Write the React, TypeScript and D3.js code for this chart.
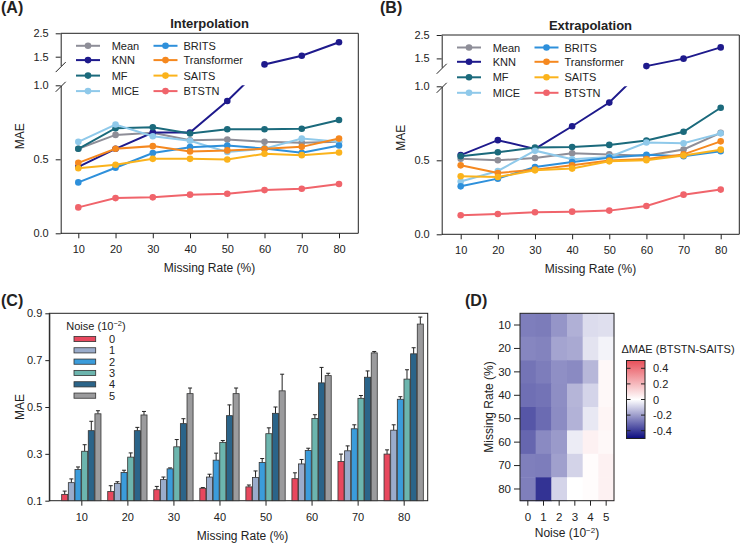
import React, { useEffect, useRef } from 'react';
import * as d3 from 'd3';

const rates = [10, 20, 30, 40, 50, 60, 70, 80];
const methods = ['Mean', 'KNN', 'MF', 'MICE', 'BRITS', 'Transformer', 'SAITS', 'BTSTN'];
const methodColors = ['#8e8e98', '#1e1a8c', '#1b6a7c', '#8fc9ea', '#2e90db', '#f5881f', '#fbb31c', '#f0646b'];

// MAE, interpolation task
const interpMean = [0.571, 0.665, 0.679, 0.629, 0.634, 0.618, 0.611, 0.618];
const interpKNN = [0.449, 0.571, 0.681, 0.681, 0.894, 1.17, 1.54, 2.12];
const interpMF = [0.571, 0.71, 0.717, 0.674, 0.703, 0.703, 0.706, 0.766];
const interpMICE = [0.618, 0.735, 0.656, 0.625, 0.55, 0.572, 0.64, 0.618];
const interpBRITS = [0.344, 0.443, 0.542, 0.582, 0.593, 0.573, 0.544, 0.593];
const interpTransformer = [0.476, 0.571, 0.589, 0.553, 0.56, 0.571, 0.584, 0.64];
const interpSAITS = [0.44, 0.463, 0.503, 0.503, 0.499, 0.537, 0.528, 0.546];
const interpBTSTN = [0.175, 0.238, 0.243, 0.261, 0.267, 0.292, 0.301, 0.333];

// MAE, extrapolation task
const extraMean = [0.51, 0.5, 0.516, 0.547, 0.54, 0.53, 0.573, 0.685];
const extraKNN = [0.535, 0.636, 0.577, 0.73, 0.89, 1.17, 1.49, 1.97];
const extraMF = [0.528, 0.554, 0.586, 0.59, 0.604, 0.634, 0.693, 0.855];
const extraMICE = [0.357, 0.428, 0.565, 0.507, 0.523, 0.62, 0.615, 0.682];
const extraBRITS = [0.324, 0.376, 0.455, 0.489, 0.518, 0.538, 0.527, 0.561];
const extraTransformer = [0.466, 0.414, 0.437, 0.466, 0.498, 0.509, 0.54, 0.628];
const extraSAITS = [0.392, 0.387, 0.432, 0.444, 0.493, 0.5, 0.532, 0.572];
const extraBTSTN = [0.129, 0.137, 0.149, 0.153, 0.16, 0.191, 0.268, 0.302];

// BTSTN MAE under noise (10^-2), mean and upper error
const noiseLevels = ['0', '1', '2', '3', '4', '5'];
const noiseColors = ['#e8485e', '#9aaccb', '#3b9cdb', '#6cb5ae', '#2b6489', '#9b9b9d'];
const noise0 = [0.127, 0.139, 0.147, 0.153, 0.159, 0.194, 0.267, 0.299];
const noise1 = [0.177, 0.174, 0.19, 0.201, 0.199, 0.257, 0.313, 0.401];
const noise2 = [0.233, 0.22, 0.236, 0.273, 0.263, 0.314, 0.407, 0.533];
const noise3 = [0.311, 0.286, 0.33, 0.349, 0.386, 0.451, 0.537, 0.619];
const noise4 = [0.399, 0.399, 0.429, 0.463, 0.473, 0.603, 0.627, 0.727];
const noise5 = [0.471, 0.466, 0.557, 0.557, 0.569, 0.634, 0.731, 0.854];
const err0 = [0.014, 0.025, 0.014, 0.003, 0.008, 0.025, 0.032, 0.018];
const err1 = [0.016, 0.007, 0.011, 0.012, 0.028, 0.019, 0.021, 0.023];
const err2 = [0.011, 0.01, 0.004, 0.03, 0.017, 0.01, 0.017, 0.011];
const err3 = [0.028, 0.018, 0.031, 0.008, 0.025, 0.016, 0.012, 0.04];
const err4 = [0.04, 0.014, 0.021, 0.046, 0.027, 0.066, 0.027, 0.026];
const err5 = [0.013, 0.015, 0.024, 0.024, 0.071, 0.01, 0.006, 0.03];

// delta MAE (BTSTN - SAITS), rows = missing rate, cols = noise
const delta10 = [-0.265, -0.27, -0.218, -0.163, -0.072, -0.066];
const delta20 = [-0.249, -0.255, -0.187, -0.177, -0.058, -0.025];
const delta30 = [-0.286, -0.267, -0.23, -0.241, -0.148, 0.02];
const delta40 = [-0.296, -0.288, -0.233, -0.152, -0.088, 0.02];
const delta50 = [-0.348, -0.305, -0.237, -0.158, -0.047, 0.03];
const delta60 = [-0.315, -0.241, -0.208, -0.039, 0.04, 0.02];
const delta70 = [-0.263, -0.267, -0.195, -0.09, 0.01, 0.04];
const delta80 = [-0.263, -0.42, -0.088, 0.0, 0.01, 0.04];
const colorbarTicks = [0.4, 0.2, 0, -0.2, -0.4];

const FONT = "'Liberation Sans', Arial, Helvetica, sans-serif";
const INK = '#222';

function styleAxis(g: any, size = 11) {
  g.selectAll('text').attr('font-size', size).attr('fill', INK).attr('font-family', FONT);
  g.selectAll('line').attr('stroke', INK);
  g.selectAll('.domain').attr('stroke', INK);
}

function drawLinePanel(svg: any, cfg: any) {
  const { left, right, top, bottom, x10, x80, series, title, label, labelX, clipId } = cfg;
  const g = svg.append('g');
  const x = d3.scaleLinear().domain([10, 80]).range([x10, x80]);
  // broken y axis: 0..1 below, 1.12..2.5 compressed above
  const yLow = d3.scaleLinear().domain([0, 1]).range([bottom, bottom - 148]);
  const perUnit = 23.4;
  const highMin = 1.12;
  const yHigh = d3.scaleLinear().domain([highMin, 2.5]).range([top + (2.5 - highMin) * perUnit, top]);
  const y = (v: number) => (v <= 1 ? yLow(v) : yHigh(v));
  const gapTop = yHigh(highMin);
  const gapBottom = yLow(1);

  const defs = svg.append('defs');
  const clip = defs.append('clipPath').attr('id', clipId);
  clip.append('rect').attr('x', left).attr('y', top).attr('width', right - left).attr('height', gapTop - top);
  clip.append('rect').attr('x', left).attr('y', gapBottom).attr('width', right - left).attr('height', bottom - gapBottom);

  // frame (top, right, bottom)
  g.append('path')
    .attr('d', `M${left},${top}H${right}V${bottom}H${left}`)
    .attr('fill', 'none').attr('stroke', INK).attr('stroke-width', 1);

  const ax = g.append('g').attr('transform', `translate(0,${bottom})`)
    .call(d3.axisBottom(x).tickValues(rates).tickSize(5).tickPadding(7).tickSizeOuter(0));
  ax.select('.domain').remove();
  styleAxis(ax);

  const fmt = d3.format('.1f');
  const ayLow = g.append('g').attr('transform', `translate(${left},0)`)
    .call(d3.axisLeft(yLow).tickValues([0, 0.5, 1]).tickFormat(fmt).tickSize(5).tickPadding(7).tickSizeOuter(0));
  styleAxis(ayLow);
  const ayHigh = g.append('g').attr('transform', `translate(${left},0)`)
    .call(d3.axisLeft(yHigh).tickValues([1.5, 2.5]).tickFormat(fmt).tickSize(5).tickPadding(7).tickSizeOuter(0));
  styleAxis(ayHigh);

  // break marks
  [gapTop + 1.5, gapBottom + 1.5].forEach((yy) => {
    g.append('line').attr('x1', left - 5).attr('y1', yy + 5).attr('x2', left + 5).attr('y2', yy - 5)
      .attr('stroke', INK).attr('stroke-width', 1);
  });

  const line = d3.line<number>().x((_, j) => x(rates[j])).y((v) => y(v));
  series.forEach((vals: number[], i: number) => {
    g.append('path').attr('d', line(vals)).attr('fill', 'none')
      .attr('stroke', methodColors[i]).attr('stroke-width', 2)
      .attr('clip-path', `url(#${clipId})`);
    g.selectAll(null).data(vals).enter().append('circle')
      .attr('cx', (_: any, j: number) => x(rates[j])).attr('cy', (v: number) => y(v))
      .attr('r', 3.3).attr('fill', methodColors[i]);
  });

  // legend
  methods.forEach((m, i) => {
    const col = i < 4 ? 0 : 1;
    const row = i % 4;
    const lx = left + (col === 0 ? 15.3 : 92.8);
    const ly = top + [12.5, 26.8, 42.3, 57.8][row];
    g.append('line').attr('x1', lx).attr('x2', lx + 24).attr('y1', ly).attr('y2', ly)
      .attr('stroke', methodColors[i]).attr('stroke-width', 2);
    g.append('circle').attr('cx', lx + 12).attr('cy', ly).attr('r', 3.3).attr('fill', methodColors[i]);
    g.append('text').attr('x', left + (col === 0 ? 51 : 122.8)).attr('y', ly + 4)
      .attr('font-size', 11).attr('fill', INK).text(m);
  });

  g.append('text').attr('x', (left + right) / 2).attr('y', top - 5.5).attr('text-anchor', 'middle')
    .attr('font-size', 13).attr('font-weight', 'bold').attr('fill', INK).text(title);
  g.append('text').attr('x', (left + right) / 2).attr('y', bottom + 39).attr('text-anchor', 'middle')
    .attr('font-size', 12).attr('fill', INK).text('Missing Rate (%)');
  g.append('text').attr('transform', `translate(${left - 37},${(top + bottom) / 2 + 3}) rotate(-90)`)
    .attr('text-anchor', 'middle').attr('font-size', 12).attr('fill', INK).text('MAE');
  g.append('text').attr('x', labelX).attr('y', 12.5).attr('font-size', 16).attr('font-weight', 'bold')
    .attr('fill', INK).text(label);
}

function drawBarPanel(svg: any) {
  const left = 49.3, right = 427.7, top = 313.3, bottom = 500.7;
  const g = svg.append('g');
  const means = [noise0, noise1, noise2, noise3, noise4, noise5];
  const errs = [err0, err1, err2, err3, err4, err5];
  const x0 = d3.scaleBand<number>().domain(rates).range([58.3, 426.7]);
  const x1 = d3.scaleBand<string>().domain(noiseLevels).range([0, 39.3]).paddingInner(0.09);
  const y = d3.scaleLinear().domain([0.1, 0.9]).range([bottom, top]);

  g.append('rect').attr('x', left).attr('y', top).attr('width', right - left).attr('height', bottom - top)
    .attr('fill', 'none').attr('stroke', INK);

  const ay = g.append('g').attr('transform', `translate(${left},0)`)
    .call(d3.axisLeft(y).tickValues([0.1, 0.3, 0.5, 0.7, 0.9]).tickFormat(d3.format('.1f')).tickSize(4).tickPadding(3).tickSizeOuter(0));
  styleAxis(ay);
  const xc = d3.scalePoint<number>().domain(rates).range([x0(10)! + x0.bandwidth() / 2, x0(80)! + x0.bandwidth() / 2]);
  const axb = g.append('g').attr('transform', `translate(0,${bottom})`)
    .call(d3.axisBottom(xc).tickSize(5).tickPadding(8).tickSizeOuter(0));
  axb.select('.domain').remove();
  styleAxis(axb);

  rates.forEach((r, gi) => {
    const gx = x0(r)! + x0.bandwidth() / 2 - 19.65;
    noiseLevels.forEach((n, k) => {
      const v = means[k][gi];
      const e = errs[k][gi];
      const bx = gx + x1(n)!;
      const bw = x1.bandwidth();
      g.append('line').attr('x1', bx + bw / 2).attr('x2', bx + bw / 2).attr('y1', y(v)).attr('y2', y(v + e))
        .attr('stroke', INK).attr('stroke-width', 1);
      g.append('line').attr('x1', bx + bw / 2 - 2).attr('x2', bx + bw / 2 + 2).attr('y1', y(v + e)).attr('y2', y(v + e))
        .attr('stroke', INK).attr('stroke-width', 1);
      g.append('rect').attr('x', bx).attr('y', y(v)).attr('width', bw).attr('height', bottom - y(v))
        .attr('fill', noiseColors[k]).attr('stroke', '#333').attr('stroke-width', 0.8);
    });
  });

  // legend
  const title = g.append('text').attr('x', 66.3).attr('y', 330).attr('font-size', 11).attr('fill', INK);
  title.append('tspan').text('Noise (10');
  title.append('tspan').attr('dy', -4).attr('font-size', 7.5).text('\u22122');
  title.append('tspan').attr('dy', 4).text(')');
  noiseLevels.forEach((n, k) => {
    const cy = 339 + k * 11.33;
    g.append('rect').attr('x', 74).attr('y', cy - 2.6).attr('width', 21.7).attr('height', 5.2)
      .attr('fill', noiseColors[k]).attr('stroke', '#333').attr('stroke-width', 0.8);
    g.append('text').attr('x', 109).attr('y', cy + 4).attr('font-size', 11).attr('fill', INK).text(n);
  });

  g.append('text').attr('x', (xc(10)! + xc(80)!) / 2).attr('y', 540).attr('text-anchor', 'middle')
    .attr('font-size', 12).attr('fill', INK).text('Missing Rate (%)');
  g.append('text').attr('transform', `translate(24,${(top + bottom) / 2}) rotate(-90)`)
    .attr('text-anchor', 'middle').attr('font-size', 12).attr('fill', INK).text('MAE');
  g.append('text').attr('x', 1).attr('y', 305.5).attr('font-size', 16).attr('font-weight', 'bold')
    .attr('fill', INK).text('(C)');
}

function drawHeatPanel(svg: any) {
  const left = 520, right = 614, top = 313.3, bottom = 500.7;
  const g = svg.append('g');
  const grid = [delta10, delta20, delta30, delta40, delta50, delta60, delta70, delta80];
  const x = d3.scaleBand<string>().domain(noiseLevels).range([left, right]);
  const y = d3.scaleBand<number>().domain(rates).range([top, bottom]);
  const color = d3.scaleLinear<string>().domain([-0.5, 0, 0.5]).range(['#0c0c80', '#ffffff', '#e8505a']).clamp(true);

  grid.forEach((row, ri) => {
    row.forEach((v, ci) => {
      g.append('rect').attr('x', x(noiseLevels[ci])!).attr('y', y(rates[ri])!)
        .attr('width', x.bandwidth() + 0.5).attr('height', y.bandwidth() + 0.5).attr('fill', color(v));
    });
  });
  g.append('rect').attr('x', left).attr('y', top).attr('width', right - left).attr('height', bottom - top)
    .attr('fill', 'none').attr('stroke', INK);

  const ay = g.append('g').attr('transform', `translate(${left},0)`)
    .call(d3.axisLeft(y).tickSize(6).tickPadding(3).tickSizeOuter(0));
  ay.select('.domain').remove();
  styleAxis(ay, 11.5);
  const ax = g.append('g').attr('transform', `translate(0,${bottom})`)
    .call(d3.axisBottom(x).tickSize(5).tickPadding(7.5).tickSizeOuter(0));
  ax.select('.domain').remove();
  styleAxis(ax, 11.5);

  const xt = g.append('text').attr('x', (left + right) / 2).attr('y', 537).attr('text-anchor', 'middle')
    .attr('font-size', 12).attr('fill', INK);
  xt.append('tspan').text('Noise (10');
  xt.append('tspan').attr('dy', -4.5).attr('font-size', 8).text('\u22122');
  xt.append('tspan').attr('dy', 4.5).text(')');
  g.append('text').attr('transform', `translate(493,${(top + bottom) / 2}) rotate(-90)`)
    .attr('text-anchor', 'middle').attr('font-size', 12).attr('fill', INK).text('Missing Rate (%)');
  g.append('text').attr('x', 465).attr('y', 305.5).attr('font-size', 16).attr('font-weight', 'bold')
    .attr('fill', INK).text('(D)');

  // colour bar
  const cb = d3.scaleLinear().domain([-0.5, 0.5]).range([438.5, 360.5]);
  const grad = svg.append('defs').append('linearGradient').attr('id', 'deltaGrad')
    .attr('x1', 0).attr('y1', 1).attr('x2', 0).attr('y2', 0);
  d3.range(0, 1.0001, 0.1).forEach((t) => {
    grad.append('stop').attr('offset', t).attr('stop-color', color(-0.5 + t));
  });
  const cbx = 626.5, cbw = 18.5;
  g.append('rect').attr('x', cbx).attr('y', cb(0.5)).attr('width', cbw).attr('height', cb(-0.5) - cb(0.5))
    .attr('fill', 'url(#deltaGrad)').attr('stroke', INK);
  colorbarTicks.forEach((t) => {
    g.append('line').attr('x1', cbx).attr('x2', cbx + 4).attr('y1', cb(t)).attr('y2', cb(t)).attr('stroke', INK);
    g.append('line').attr('x1', cbx + cbw - 4).attr('x2', cbx + cbw).attr('y1', cb(t)).attr('y2', cb(t)).attr('stroke', INK);
    g.append('text').attr('x', 653).attr('y', cb(t) + 4).attr('font-size', 11).attr('fill', INK)
      .text(t === 0 ? '0' : d3.format('.1f')(t).replace('\u2212', '-'));
  });
  g.append('text').attr('x', 621.5).attr('y', 353).attr('font-size', 11).attr('fill', INK)
    .text('\u0394MAE (BTSTN-SAITS)');
}

export default function App() {
  const ref = useRef<SVGSVGElement>(null);

  useEffect(() => {
    const svg = d3.select(ref.current);
    svg.selectAll('*').remove();
    drawLinePanel(svg, {
      left: 60.7, right: 358.3, top: 33.3, bottom: 233.3, x10: 78.3, x80: 339,
      series: [interpMean, interpKNN, interpMF, interpMICE, interpBRITS, interpTransformer, interpSAITS, interpBTSTN],
      title: 'Interpolation', label: '(A)', labelX: 1, clipId: 'clipA',
    });
    drawLinePanel(svg, {
      left: 441.7, right: 739.3, top: 35, bottom: 234.3, x10: 460.7, x80: 720.7,
      series: [extraMean, extraKNN, extraMF, extraMICE, extraBRITS, extraTransformer, extraSAITS, extraBTSTN],
      title: 'Extrapolation', label: '(B)', labelX: 380, clipId: 'clipB',
    });
    drawBarPanel(svg);
    drawHeatPanel(svg);
  }, []);

  return (
    <svg
      ref={ref}
      width={743}
      height={545}
      style={{ position: 'absolute', left: 0, top: 0, background: '#fff' }}
      fontFamily={FONT}
    />
  );
}
